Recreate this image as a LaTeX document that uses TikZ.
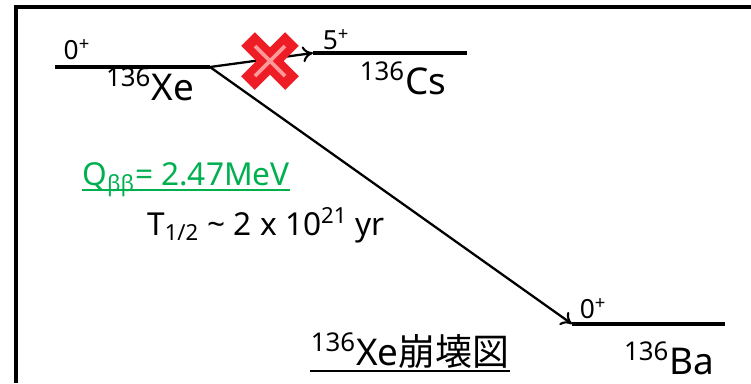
\documentclass[tikz,border=0pt]{standalone}
\usepackage{fontspec}
\setmainfont{Noto Sans}
\newfontfamily\jpfont{Noto Sans CJK JP}
\usetikzlibrary{arrows.meta,positioning,calc}
\definecolor{qgreen}{RGB}{0,176,80}
\definecolor{crossred}{RGB}{238,28,36}

\begin{document}
\begin{tikzpicture}[x=0.02cm, y=-0.02cm,
    level/.style={line width=2.3pt},
    decay/.style={-{To[length=6pt,width=9pt,line width=1.2pt]}, line width=1.3pt},
    spin/.style={font=\fontsize{15}{18}\selectfont, inner sep=0pt},
    nucl/.style={font=\fontsize{21}{24}\selectfont, inner sep=0pt, anchor=base},
    info/.style={font=\fontsize{18}{22}\selectfont, inner sep=0pt, anchor=base},
    uline/.style={line width=1.2pt},
    cross/.style={line width=11pt, crossred},
    shine/.style={line width=2.2pt, red!40!white}]

    \useasboundingbox (0,0) rectangle (751,383);

    % Frame
    \draw[line width=2pt] (16,383) -- (16,7) -- (751,7);

    % Levels
    \coordinate (xeL) at (55,67);
    \coordinate (xeR) at (210,67);
    \coordinate (csL) at (313,53);
    \coordinate (csR) at (467,53);
    \coordinate (baL) at (572,324);
    \coordinate (baR) at (725,324);
    \draw[level] (xeL) -- (xeR);
    \draw[level] (csL) -- (csR);
    \draw[level] (baL) -- (baR);

    % Spins and nuclei
    \node[spin] (xespin) at (77,50) {0\textsuperscript{+}};
    \node[spin] (csspin) at (336,40) {5\textsuperscript{+}};
    \node[spin] (baspin) at (593,309) {0\textsuperscript{+}};
    \node[nucl] (xe) at (150,100) {\textsuperscript{136}Xe};
    \node[nucl] (cs) at (403,94) {\textsuperscript{136}Cs};
    \node[nucl] (ba) at (669,374) {\textsuperscript{136}Ba};

    % Decays
    \draw[decay] (xeR) -- (csL);
    \draw[decay] (xeR) -- (baL);

    % Forbidden mark
    \coordinate (x) at (270,61);
    \draw[cross] ($(x)+(-22,-22)$) -- ($(x)+(22,22)$);
    \draw[cross] ($(x)+(-22,22)$) -- ($(x)+(22,-22)$);
    \draw[shine] ($(x)+(-15,-15)$) -- ($(x)+(15,15)$);
    \draw[shine] ($(x)+(-15,15)$) -- ($(x)+(15,-15)$);

    % Q value and half-life
    \node[info, qgreen] (q) at (186,185) {Q\textsubscript{ββ}= 2.47MeV};
    \draw[uline, qgreen] ($(q.base west)+(0,5)$) -- ($(q.base east)+(0,5)$);
    \node[info] (t) at (266,235) {T\textsubscript{1/2} \textasciitilde\ 2 x 10\textsuperscript{21} yr};

    % Title
    \node[nucl] (title) at (410,365) {\textsuperscript{136}Xe{\jpfont 崩壊図}};
    \draw[uline] ($(title.base west)+(0,6)$) -- ($(title.base east)+(0,6)$);
\end{tikzpicture}
\end{document}
